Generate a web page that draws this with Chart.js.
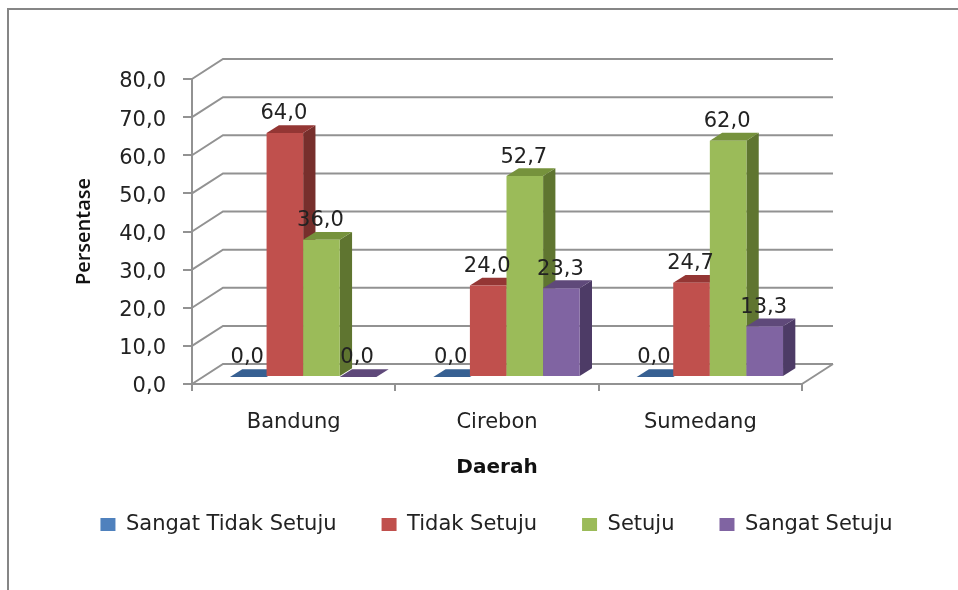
<!DOCTYPE html>
<html>
<head>
<meta charset="utf-8">
<title>Persentase per Daerah</title>
<script src="https://cdn.jsdelivr.net/npm/chart.js@4"></script>
<style>
  html, body { margin: 0; padding: 0; background: #fff; overflow: hidden; }
  #frame { position: absolute; left: 7px; top: 8px; width: 951px; height: 582px; border-left: 2px solid #868686; border-top: 2px solid #868686; box-sizing: border-box; }
  #chart { position: absolute; left: 0; top: 0; }
</style>
</head>
<body>
<div id="frame"></div>
<canvas id="chart" width="958" height="590"></canvas>
<script>
// DATA
const categories = ["Bandung", "Cirebon", "Sumedang"];
const sangatTidakSetuju = [0, 0, 0];
const tidakSetuju = [64, 24, 24.7];
const setuju = [36, 52.7, 62];
const sangatSetuju = [0, 23.3, 13.3];

// front, top, side
const blue = ["#4f81bd", "#376092", "#2f5480"];
const red = ["#c0504d", "#943634", "#772f2c"];
const green = ["#9bbb59", "#76923c", "#5f7530"];
const purple = ["#8064a2", "#5f497a", "#4d3b66"];

const gridColor = "#929292";
const textColor = "#222";
const font = "DejaVu Sans";

// how far the floor runs back
const wallX = 31, wallY = 20;
// bars stand a bit inside the floor
const barShiftX = 9.5, barShiftY = -7;
const depthX = 12.3, depthY = 7.8;

const fmt = v => v.toFixed(1).replace(".", ",");

function dataset(label, values, shades) {
  return { label, data: values, backgroundColor: shades[0], shades, borderWidth: 0,
           categoryPercentage: 0.72, barPercentage: 1 };
}

// back wall lines and floor
const walls = {
  id: "walls",
  beforeDatasetsDraw(chart) {
    const { ctx, chartArea: a, scales: { y } } = chart;
    ctx.save();
    ctx.strokeStyle = gridColor;
    ctx.lineWidth = 2;
    y.ticks.forEach(t => {
      const py = y.getPixelForValue(t.value);
      ctx.beginPath();
      ctx.moveTo(a.left, py);
      ctx.lineTo(a.left + wallX, py - wallY);
      ctx.lineTo(a.right + wallX, py - wallY);
      ctx.stroke();
    });
    ctx.beginPath();
    ctx.moveTo(a.right, a.bottom);
    ctx.lineTo(a.right + wallX, a.bottom - wallY);
    ctx.stroke();
    ctx.restore();
  }
};

// draws the bars as blocks, left to right, so each front covers the side before it
const blocks = {
  id: "blocks",
  beforeDatasetDraw() { return false; },
  afterDatasetsDraw(chart) {
    const { ctx } = chart;
    ctx.save();
    ctx.translate(barShiftX, barShiftY);
    chart.data.datasets.forEach((ds, i) => {
      chart.getDatasetMeta(i).data.forEach(bar => {
        const l = bar.x - bar.width / 2, r = bar.x + bar.width / 2;
        ctx.fillStyle = ds.shades[2];
        ctx.beginPath();
        ctx.moveTo(r, bar.y);
        ctx.lineTo(r + depthX, bar.y - depthY);
        ctx.lineTo(r + depthX, bar.base - depthY);
        ctx.lineTo(r, bar.base);
        ctx.fill();
        ctx.fillStyle = ds.shades[1];
        ctx.beginPath();
        ctx.moveTo(l, bar.y);
        ctx.lineTo(l + depthX, bar.y - depthY);
        ctx.lineTo(r + depthX, bar.y - depthY);
        ctx.lineTo(r, bar.y);
        ctx.fill();
        bar.draw(ctx, chart.chartArea);
      });
    });
    // value labels
    ctx.fillStyle = textColor;
    ctx.font = "21px '" + font + "'";
    ctx.textAlign = "center";
    ctx.textBaseline = "middle";
    chart.data.datasets.forEach((ds, i) => {
      chart.getDatasetMeta(i).data.forEach((bar, j) => {
        ctx.fillText(fmt(ds.data[j]), bar.x - 1, bar.y - 19);
      });
    });
    ctx.restore();
  }
};

// y labels sit a little below their ticks in the original
function nudgeLabels(s) {
  if (s.nudged) return;
  const draw = s.drawLabels.bind(s);
  s.drawLabels = area => {
    s.ctx.save();
    s.ctx.translate(0, 3);
    draw(area);
    s.ctx.restore();
  };
  s.nudged = true;
}

new Chart(document.getElementById("chart"), {
  type: "bar",
  data: {
    labels: categories,
    datasets: [
      dataset("Sangat Tidak Setuju", sangatTidakSetuju, blue),
      dataset("Tidak Setuju", tidakSetuju, red),
      dataset("Setuju", setuju, green),
      dataset("Sangat Setuju", sangatSetuju, purple),
    ],
  },
  plugins: [walls, blocks],
  options: {
    responsive: false,
    animation: false,
    layout: { padding: { top: 79, left: 35, right: 0, bottom: 45 } },
    plugins: {
      tooltip: { enabled: false },
      legend: {
        position: "bottom",
        labels: {
          color: textColor,
          font: { family: font, size: 21 },
          boxWidth: 15,
          boxHeight: 13,
          padding: 45,
        },
      },
    },
    scales: {
      x: {
        afterFit(s) { s.height = 85; },
        border: { color: gridColor, width: 2 },
        grid: { drawOnChartArea: false, color: gridColor, lineWidth: 2, tickLength: 7 },
        ticks: { color: textColor, font: { family: font, size: 21 }, padding: 19, maxRotation: 0 },
        title: {
          display: true,
          text: "Daerah",
          color: "#111",
          font: { family: font, size: 20, weight: "bold" },
          padding: { top: 0, bottom: -10.5 },
        },
      },
      y: {
        min: 0,
        max: 80,
        afterFit(s) { s.width = 157; },
        afterUpdate: nudgeLabels,
        border: { color: gridColor, width: 2 },
        grid: { drawOnChartArea: false, color: gridColor, lineWidth: 2, tickLength: 9 },
        ticks: { stepSize: 10, color: textColor, font: { family: font, size: 21 }, padding: 17, callback: v => fmt(v) },
        title: {
          display: true,
          text: "Persentase",
          color: "#111",
          font: { family: "Open Sans", size: 20, weight: "600" },
          padding: { top: 37, bottom: 0 },
        },
      },
      // empty axis, only holds the right margin
      side: {
        position: "right",
        afterFit(s) { s.width = 156; },
        border: { display: false },
        grid: { display: false },
        ticks: { display: false },
      },
    },
  },
});
</script>
</body>
</html>
